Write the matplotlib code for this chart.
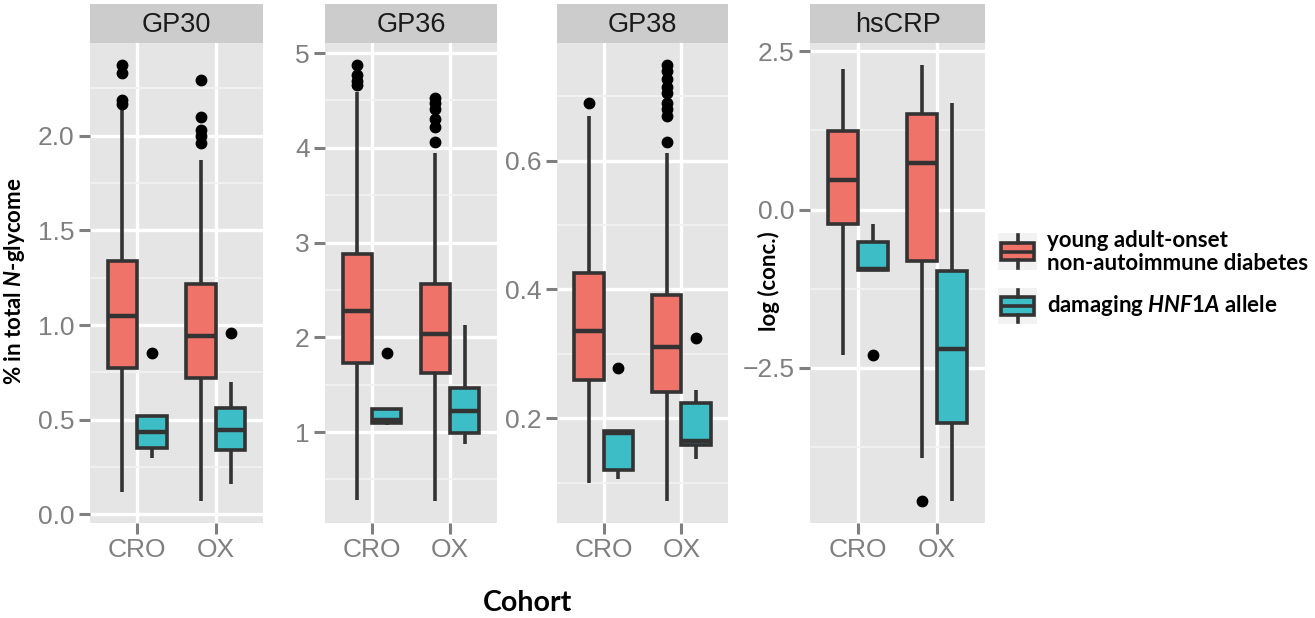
import numpy as np
import matplotlib
matplotlib.use("Agg")
import matplotlib.pyplot as plt

plt.rcParams['mathtext.fontset'] = 'custom'
plt.rcParams['mathtext.it'] = 'Lato:italic:bold'
plt.rcParams['mathtext.rm'] = 'Lato:bold'

cohorts = ["CRO", "OX"]
groups = ["young adult-onset\nnon-autoimmune diabetes", "damaging $\\mathit{HNF1A}$ allele"]
panels = ["GP30", "GP36", "GP38", "hsCRP"]

# order of boxes: diabetes-CRO, HNF1A-CRO, diabetes-OX, HNF1A-OX
gp30_lo = [0.115, 0.296, 0.069, 0.16]
gp30_q1 = [0.771, 0.35, 0.719, 0.3375]
gp30_med = [1.046, 0.433, 0.942, 0.444]
gp30_q3 = [1.337, 0.52, 1.215, 0.5625]
gp30_hi = [2.14, 0.52, 1.87, 0.698]
gp30_out = [[2.375, 2.33, 2.19, 2.17], [0.85], [2.296, 2.10, 2.03, 2.0, 1.96], [0.958]]

gp36_lo = [0.278, 1.07, 0.27, 0.87]
gp36_q1 = [1.73, 1.09, 1.62, 0.99]
gp36_med = [2.28, 1.13, 2.03, 1.22]
gp36_q3 = [2.876, 1.24, 2.56, 1.46]
gp36_hi = [4.59, 1.24, 3.95, 2.13]
gp36_out = [[4.876, 4.77, 4.70, 4.66], [1.83], [4.53, 4.47, 4.41, 4.30, 4.22, 4.06], []]

gp38_lo = [0.099, 0.106, 0.071, 0.136]
gp38_q1 = [0.259, 0.12, 0.241, 0.158]
gp38_med = [0.335, 0.177, 0.311, 0.165]
gp38_q3 = [0.426, 0.18, 0.391, 0.224]
gp38_hi = [0.669, 0.18, 0.612, 0.244]
gp38_out = [[0.689], [0.278], [0.749, 0.739, 0.727, 0.715, 0.705, 0.69, 0.68, 0.669, 0.629], [0.325]]

crp_lo = [-2.307, -0.954, -3.93, -4.61]
crp_q1 = [-0.23, -0.954, -0.81, -3.38]
crp_med = [0.468, -0.935, 0.73, -2.21]
crp_q3 = [1.247, -0.517, 1.515, -0.97]
crp_hi = [2.226, -0.23, 2.288, 1.68]
crp_out = [[], [-2.307], [-4.61], []]

major_ticks = [[0, 0.5, 1.0, 1.5, 2.0], [1, 2, 3, 4, 5], [0.2, 0.4, 0.6], [-2.5, 0, 2.5]]
tick_labels = [["0.0", "0.5", "1.0", "1.5", "2.0"], ["1", "2", "3", "4", "5"],
               ["0.2", "0.4", "0.6"], ["\u22122.5", "0.0", "2.5"]]
minor_ticks = [[0.25, 0.75, 1.25, 1.75, 2.25], [0.5, 1.5, 2.5, 3.5, 4.5],
               [0.1, 0.3, 0.5, 0.7], [-3.75, -1.25, 1.25]]

data = [
    (gp30_lo, gp30_q1, gp30_med, gp30_q3, gp30_hi, gp30_out),
    (gp36_lo, gp36_q1, gp36_med, gp36_q3, gp36_hi, gp36_out),
    (gp38_lo, gp38_q1, gp38_med, gp38_q3, gp38_hi, gp38_out),
    (crp_lo, crp_q1, crp_med, crp_q3, crp_hi, crp_out),
]

fill_cols = ['#F0736A', '#3DBEC6']
line_col = '#333333'
grey = '#7F7F7F'
lw = 2.6

W, H = 1315, 618
fig = plt.figure(figsize=(W / 100, H / 100), dpi=100)

panel_x = [(90, 263), (325, 497), (557, 728), (810, 985)]
top, bottom, strip_top = 43, 523, 4


def fig_rect(x0, x1, y0, y1):
    return [x0 / W, 1 - y1 / H, (x1 - x0) / W, (y1 - y0) / H]


positions = [1 - 0.1875, 1 + 0.1875, 2 - 0.1875, 2 + 0.1875]

for i, (name, (lo, q1, med, q3, hi, out)) in enumerate(zip(panels, data)):
    x0, x1 = panel_x[i]
    ax = fig.add_axes(fig_rect(x0, x1, top, bottom))
    ax.set_facecolor('#E5E5E5')
    for s in ax.spines.values():
        s.set_visible(False)

    stats = []
    for k in range(4):
        stats.append(dict(whislo=lo[k], q1=q1[k], med=med[k], q3=q3[k],
                          whishi=hi[k], fliers=out[k]))
    bp = ax.bxp(stats, positions=positions, widths=0.375, showcaps=False,
                patch_artist=True, manage_ticks=False, zorder=3,
                boxprops=dict(edgecolor=line_col, linewidth=lw),
                whiskerprops=dict(color=line_col, linewidth=lw, solid_capstyle='butt'),
                medianprops=dict(color=line_col, linewidth=lw + 0.6, solid_capstyle='butt'),
                flierprops=dict(marker='o', markerfacecolor='black', markeredgecolor='black',
                                markersize=7.5, linestyle='none'))
    for k, patch in enumerate(bp['boxes']):
        patch.set_facecolor(fill_cols[k % 2])

    all_vals = lo + hi + [v for o in out for v in o]
    vmin, vmax = min(all_vals), max(all_vals)
    pad = (vmax - vmin) * 0.05
    ax.set_ylim(vmin - pad, vmax + pad)
    ax.set_xlim(0.4, 2.6)

    ax.set_yticks(major_ticks[i])
    ax.set_yticklabels(tick_labels[i])
    ax.set_yticks(minor_ticks[i], minor=True)
    ax.set_xticks([1, 2])
    ax.set_xticklabels(cohorts)
    ax.tick_params(axis='both', which='major', length=8, width=2.2, color=grey,
                   labelcolor=grey, labelsize=19, pad=3)
    ax.tick_params(axis='y', which='minor', length=0)
    for lab in ax.get_xticklabels() + ax.get_yticklabels():
        lab.set_fontfamily('Liberation Sans')
    ax.grid(True, which='major', color='white', linewidth=2.4, zorder=0)
    ax.grid(True, which='minor', axis='y', color='#F2F2F2', linewidth=1.3, zorder=0)
    ax.set_axisbelow(True)

    sax = fig.add_axes(fig_rect(x0, x1, strip_top, top))
    sax.set_facecolor('#CCCCCC')
    sax.set_xticks([])
    sax.set_yticks([])
    for s in sax.spines.values():
        s.set_visible(False)
    sax.text(0.5, 0.45, name, ha='center', va='center', fontsize=19.5,
             family='Liberation Sans', color='#1A1A1A', transform=sax.transAxes)

fig.text(15 / W, 1 - 281 / H, "% in total $\\mathit{N}$-glycome", rotation=90,
         ha='center', va='center', fontsize=16, family='Lato', fontweight='bold')
fig.text(769 / W, 1 - 281 / H, "log (conc.)", rotation=90,
         ha='center', va='center', fontsize=16, family='Lato', fontweight='bold')
fig.text(528 / W, 1 - 603 / H, "Cohort", ha='center', va='center', fontsize=20.5,
         family='Lato', fontweight='bold')

# legend
key_y = [(233, 270), (288, 324)]
text_y = [252, 306]
for g in range(2):
    y0, y1 = key_y[g]
    kax = fig.add_axes(fig_rect(998, 1037, y0, y1))
    kax.set_facecolor('#F2F2F2')
    kax.set_xlim(0, 1)
    kax.set_ylim(0, 1)
    kax.set_xticks([])
    kax.set_yticks([])
    for s in kax.spines.values():
        s.set_visible(False)
    kax.bxp([dict(whislo=0.05, q1=0.26, med=0.5, q3=0.74, whishi=0.95, fliers=[])],
            positions=[0.5], widths=0.86, showcaps=False, patch_artist=True,
            manage_ticks=False,
            boxprops=dict(edgecolor=line_col, linewidth=lw, facecolor=fill_cols[g]),
            whiskerprops=dict(color=line_col, linewidth=lw),
            medianprops=dict(color=line_col, linewidth=lw))
    fig.text(1047 / W, 1 - text_y[g] / H, groups[g], ha='left', va='center',
             fontsize=16, family='Lato', fontweight='bold', linespacing=1.12)

fig.savefig("out.png", dpi=100)
